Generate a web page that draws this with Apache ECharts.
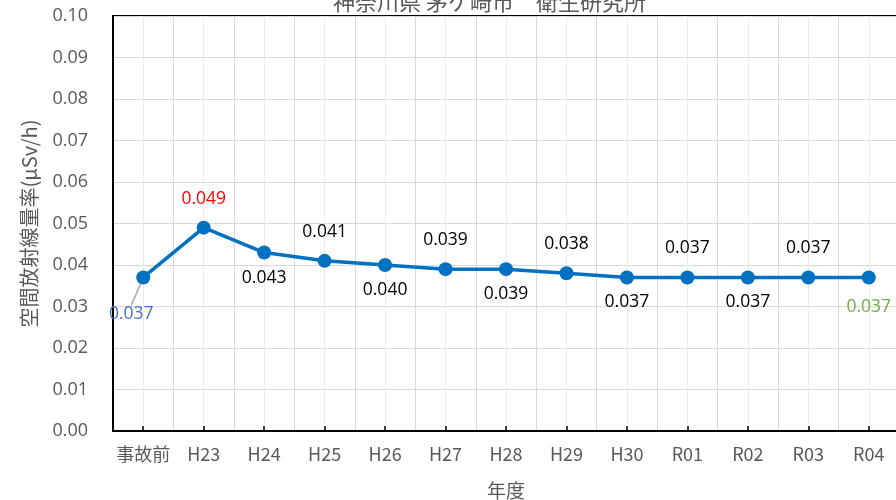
<!DOCTYPE html>
<html>
<head>
<meta charset="utf-8">
<script src="https://cdn.jsdelivr.net/npm/echarts@6/dist/echarts.min.js"></script>
<style>html,body{margin:0;padding:0;background:#fff;}#c{width:896px;height:500px;}</style>
</head>
<body>
<div id="c"></div>
<script>
var titleText = '神奈川県 茅ケ崎市　衛生研究所';
var categories = ['事故前','H23','H24','H25','H26','H27','H28','H29','H30','R01','R02','R03','R04'];
var values = [0.037,0.049,0.043,0.041,0.040,0.039,0.039,0.038,0.037,0.037,0.037,0.037,0.037];
var yTickLabels = ['0.00','0.01','0.02','0.03','0.04','0.05','0.06','0.07','0.08','0.09','0.10'];
var yName = '空間放射線量率(μSv/h)';
var xName = '年度';

var LBL_FONT = 'Open Sans';
var last = values.length - 1;
var seriesData = values.map(function (v, i) {
  var item = { value: v };
  if (i === 0) {
    item.label = { position: 'bottom', distance: 7, color: '#4472C4' };
    item.labelLine = { show: true, length2: 0, smooth: false, lineStyle: { color: '#A6A6A6', width: 1.5 } };
  } else if (i === last) {
    item.label = { position: 'bottom', distance: 14, offset: [-4, 0], color: '#70AD47' };
  } else if (i % 2 === 1) {
    item.label = { position: 'top', distance: 13, color: i === 1 ? '#FF0000' : '#000000' };
  } else {
    item.label = { position: 'bottom', distance: 9, offset: [-6, 0], color: '#000000' };
  }
  return item;
});

var chart = echarts.init(document.getElementById('c'), null, { renderer: 'canvas' });
chart.setOption({
  animation: false,
  backgroundColor: '#ffffff',
  title: {
    text: titleText,
    left: 328,
    top: -14,
    textStyle: { fontFamily: 'Noto Sans CJK JP', fontSize: 22, fontWeight: 'normal', color: '#595959' }
  },
  grid: { left: 113, top: 16, width: 786, height: 415, outerBoundsMode: 'none', containLabel: false, show: true, borderColor: '#000000', borderWidth: 2, backgroundColor: 'transparent' },
  xAxis: [
    {
      type: 'category',
      data: categories,
      boundaryGap: true,
      name: xName,
      nameLocation: 'middle',
      nameGap: 50,
      nameTextStyle: { fontFamily: 'Noto Sans CJK JP', fontSize: 19, color: '#595959' },
      axisLine: { show: true, lineStyle: { color: '#000000', width: 2 } },
      axisTick: { show: true, inside: true, alignWithLabel: true, interval: 0, length: 5, lineStyle: { color: '#000000', width: 1.5 } },
      axisLabel: { interval: 0, margin: 14, fontFamily: 'Noto Sans CJK JP', fontSize: 18, color: '#595959' },
      splitLine: { show: false },
      z: 5
    },
    {
      type: 'value',
      min: 0,
      max: 26,
      interval: 1,
      show: true,
      axisLine: { show: false },
      axisTick: { show: false },
      axisLabel: { show: false },
      splitLine: { show: true, lineStyle: { color: ['#d9d9d9', '#ebebeb'], width: 1 } }
    }
  ],
  yAxis: {
    type: 'value',
    min: 0,
    max: 0.1,
    interval: 0.01,
    name: yName,
    nameLocation: 'middle',
    nameGap: 74,
    nameTextStyle: { fontFamily: 'Noto Sans CJK JP', fontSize: 20, color: '#595959' },
    axisLine: { show: true, lineStyle: { color: '#000000', width: 2 } },
    axisTick: { show: false },
    axisLabel: {
      margin: 25,
      fontFamily: 'Open Sans',
      fontSize: 18,
      color: '#595959',
      formatter: function (v) { return yTickLabels[Math.round(v * 100)]; }
    },
    splitLine: { show: true, lineStyle: { color: '#d9d9d9', width: 1 } }
  },
  series: [{
    type: 'line',
    xAxisIndex: 0,
    data: seriesData,
    symbol: 'circle',
    symbolSize: 14,
    lineStyle: { color: '#0070C0', width: 3.5 },
    itemStyle: { color: '#0070C0' },
    label: {
      show: true,
      fontFamily: LBL_FONT,
      fontSize: 17.5,
      formatter: function (p) { return p.value.toFixed(3); }
    },
    labelLine: { show: false },
    labelLayout: function (p) {
      if (p.dataIndex === 0) {
        return { dx: -12, dy: 14 };
      }
      return {};
    },
    z: 10
  }]
});
</script>
</body>
</html>
